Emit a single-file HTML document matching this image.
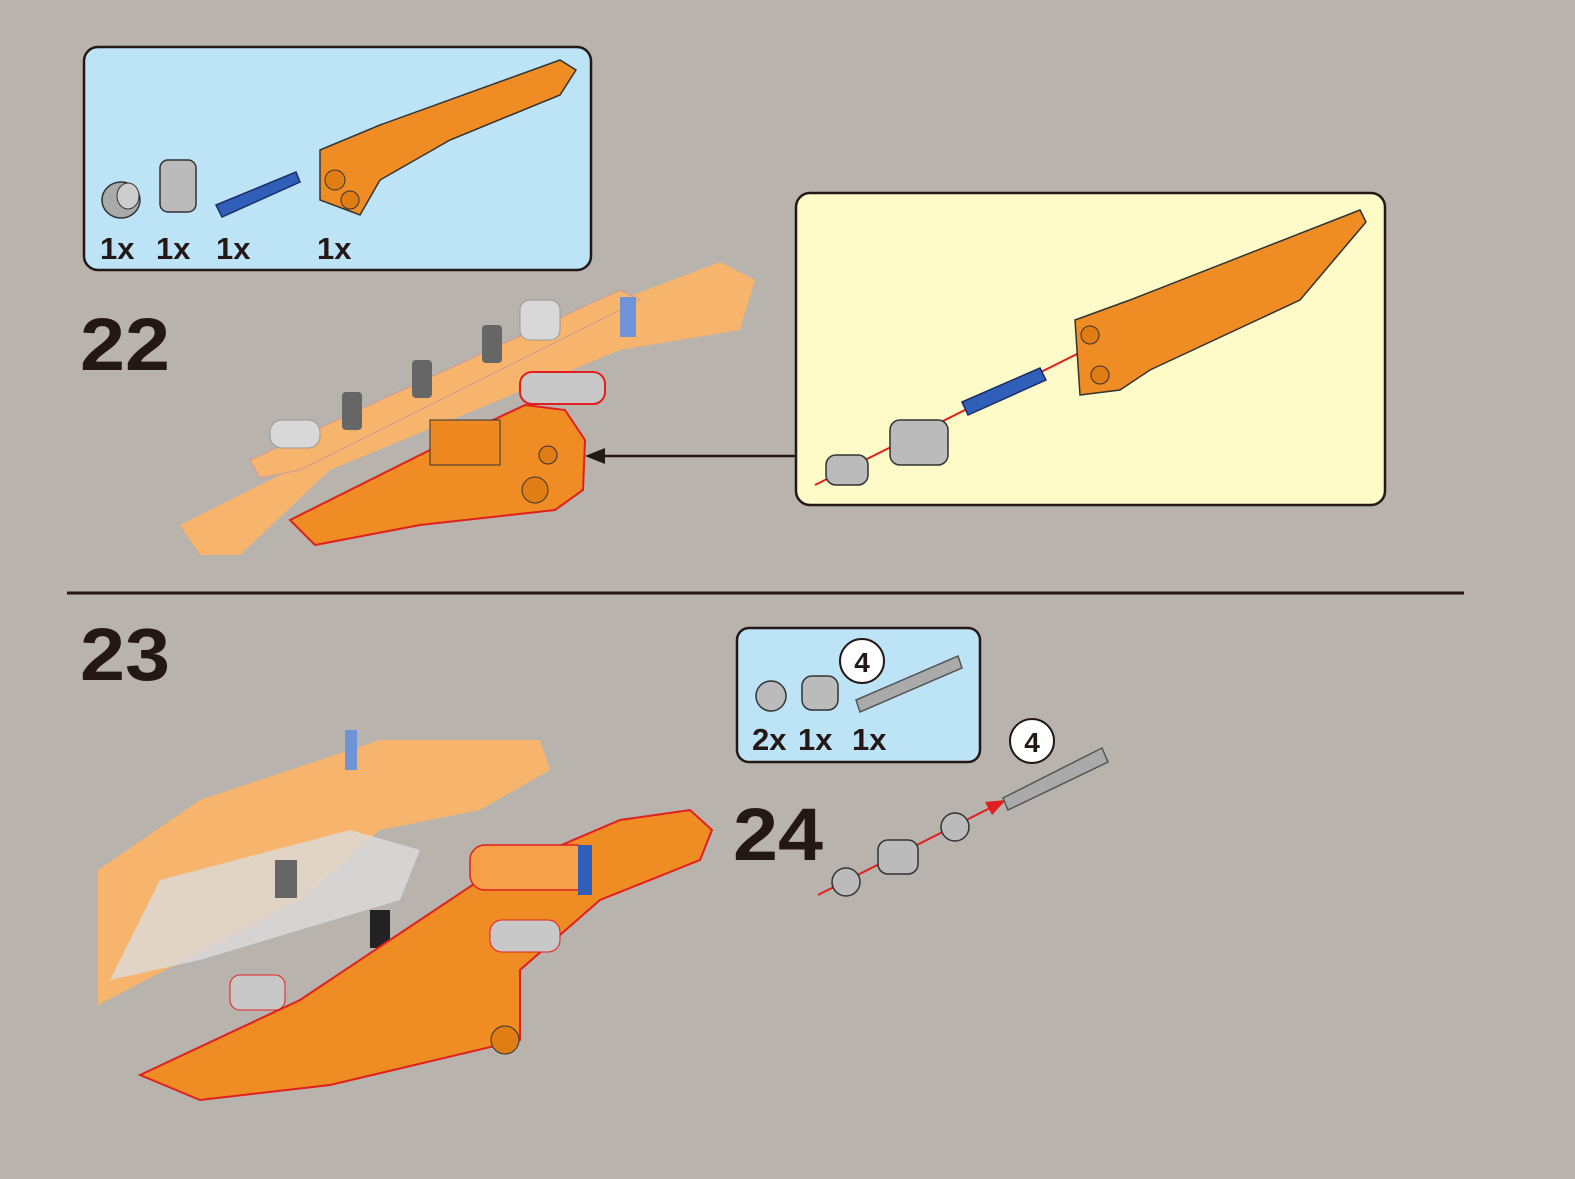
<!DOCTYPE html>
<html><head><meta charset="utf-8"><style>
html,body{margin:0;padding:0;background:#b8b3ac;}
svg{display:block}
text{font-family:"Liberation Sans",sans-serif;font-weight:bold;fill:#231815}
</style></head><body>
<svg width="1575" height="1179" viewBox="0 0 1575 1179">
<rect width="1575" height="1179" fill="#b8b3ac"/>
<!-- parts box 22 -->
<rect x="84" y="47" width="507" height="223" rx="14" fill="#bde3f7" stroke="#231815" stroke-width="2.5"/>
<ellipse cx="121" cy="200" rx="19" ry="18" fill="#aaa" stroke="#333" stroke-width="1.5"/>
<ellipse cx="128" cy="196" rx="11" ry="13" fill="#ccc" stroke="#333"/>
<rect x="160" y="160" width="36" height="52" rx="8" fill="#bbb" stroke="#333" stroke-width="1.5"/>
<polygon points="216,205 296,172 300,182 222,217" fill="#2f5fb8" stroke="#1b2f66" stroke-width="1.5"/>
<polygon points="320,150 380,125 560,60 576,70 560,95 450,140 380,180 360,215 320,200" fill="#f08c24" stroke="#333" stroke-width="1.5"/>
<circle cx="335" cy="180" r="10" fill="#e07d15" stroke="#333"/>
<circle cx="350" cy="200" r="9" fill="#e07d15" stroke="#333"/>
<text x="100" y="259" font-size="31">1x</text>
<text x="156" y="259" font-size="31">1x</text>
<text x="216" y="259" font-size="31">1x</text>
<text x="317" y="259" font-size="31">1x</text>
<text x="80" y="370" font-size="74" textLength="90" lengthAdjust="spacingAndGlyphs">22</text>
<!-- step 22 model -->
<polygon points="180,525 290,470 540,330 720,262 755,280 740,330 620,350 330,470 240,555 200,555" fill="#f6b46c"/>
<polygon points="250,460 620,290 640,300 300,470 260,478" fill="#f6b46c" stroke="#c99" stroke-width="1"/>
<rect x="270" y="420" width="50" height="28" rx="12" fill="#d8d8d8" stroke="#999"/>
<rect x="520" y="300" width="40" height="40" rx="10" fill="#d8d8d8" stroke="#999"/>
<rect x="342" y="392" width="20" height="38" rx="4" fill="#666"/>
<rect x="412" y="360" width="20" height="38" rx="4" fill="#666"/>
<rect x="482" y="325" width="20" height="38" rx="4" fill="#666"/>
<rect x="620" y="297" width="16" height="40" fill="#6e93d6"/>
<rect x="520" y="372" width="85" height="32" rx="12" fill="#c8c8c8" stroke="#e0201f" stroke-width="2"/>
<polygon points="290,520 440,445 525,405 565,410 585,440 583,490 555,510 420,525 315,545" fill="#f08c24" stroke="#e0201f" stroke-width="2"/>
<rect x="430" y="420" width="70" height="45" fill="#ee8820" stroke="#333"/>
<circle cx="548" cy="455" r="9" fill="#e07d15" stroke="#333"/>
<circle cx="535" cy="490" r="13" fill="#e07d15" stroke="#333"/>
<!-- arrow -->
<line x1="796" y1="456" x2="600" y2="456" stroke="#231815" stroke-width="2.5"/>
<polygon points="585,456 605,448 605,464" fill="#231815"/>
<!-- yellow box -->
<rect x="796" y="193" width="589" height="312" rx="14" fill="#fefbc8" stroke="#231815" stroke-width="2.5"/>
<line x1="815" y1="485" x2="1105" y2="340" stroke="#e0201f" stroke-width="2"/>
<polygon points="1112,336 1090,338 1098,352" fill="#e0201f"/>
<rect x="826" y="455" width="42" height="30" rx="10" fill="#bbb" stroke="#333" stroke-width="1.5"/>
<rect x="890" y="420" width="58" height="45" rx="10" fill="#bbb" stroke="#333" stroke-width="1.5"/>
<polygon points="962,402 1040,368 1046,380 968,415" fill="#2f5fb8" stroke="#1b2f66" stroke-width="1.5"/>
<polygon points="1075,320 1130,300 1360,210 1366,222 1300,300 1150,370 1120,390 1080,395" fill="#f08c24" stroke="#333" stroke-width="1.5"/>
<circle cx="1090" cy="335" r="9" fill="#e07d15" stroke="#333"/>
<circle cx="1100" cy="375" r="9" fill="#e07d15" stroke="#333"/>
<!-- divider -->
<line x1="67" y1="593" x2="1464" y2="593" stroke="#231815" stroke-width="3"/>
<text x="80" y="680" font-size="74" textLength="90" lengthAdjust="spacingAndGlyphs">23</text>
<!-- step 23 model -->
<polygon points="98,870 200,800 380,740 540,740 550,770 480,810 380,830 300,900 98,1005" fill="#f6b46c"/>
<polygon points="160,880 350,830 420,850 400,900 200,960 110,980" fill="#dcdcdc" opacity="0.8"/>
<rect x="345" y="730" width="12" height="40" fill="#6e93d6"/>
<rect x="275" y="860" width="22" height="38" fill="#666"/>
<rect x="370" y="910" width="20" height="38" fill="#222"/>
<polygon points="140,1075 300,1000 480,880 620,820 690,810 712,830 700,860 600,900 520,970 520,1040 330,1085 200,1100" fill="#f08c24" stroke="#e0201f" stroke-width="2"/>
<rect x="470" y="845" width="120" height="45" rx="15" fill="#f6a04a" stroke="#e0201f" stroke-width="1.5"/>
<rect x="230" y="975" width="55" height="35" rx="10" fill="#c8c8c8" stroke="#e0201f"/>
<rect x="490" y="920" width="70" height="32" rx="12" fill="#c8c8c8" stroke="#e0201f"/>
<circle cx="505" cy="1040" r="14" fill="#e07d15" stroke="#333"/>
<rect x="578" y="845" width="14" height="50" fill="#2f5fb8"/>
<!-- parts box 24 -->
<rect x="737" y="628" width="243" height="134" rx="12" fill="#bde3f7" stroke="#231815" stroke-width="2.5"/>
<circle cx="771" cy="696" r="15" fill="#bbb" stroke="#333" stroke-width="1.5"/>
<rect x="802" y="676" width="36" height="34" rx="10" fill="#bbb" stroke="#333" stroke-width="1.5"/>
<polygon points="856,700 958,656 962,668 860,712" fill="#aaa" stroke="#555" stroke-width="1.5"/>
<circle cx="862" cy="661" r="22" fill="#fff" stroke="#231815" stroke-width="2"/>
<text x="862" y="672" font-size="28" text-anchor="middle">4</text>
<text x="752" y="750" font-size="31">2x</text>
<text x="798" y="750" font-size="31">1x</text>
<text x="852" y="750" font-size="31">1x</text>
<text x="733" y="860" font-size="74" textLength="90" lengthAdjust="spacingAndGlyphs">24</text>
<!-- step 24 exploded -->
<line x1="818" y1="895" x2="1000" y2="803" stroke="#e0201f" stroke-width="2"/>
<polygon points="1006,800 985,802 992,815" fill="#e0201f"/>
<circle cx="846" cy="882" r="14" fill="#bbb" stroke="#333" stroke-width="1.5"/>
<rect x="878" y="840" width="40" height="34" rx="10" fill="#bbb" stroke="#333" stroke-width="1.5"/>
<circle cx="955" cy="827" r="14" fill="#bbb" stroke="#333" stroke-width="1.5"/>
<polygon points="1003,798 1102,748 1108,762 1008,810" fill="#aaa" stroke="#555" stroke-width="1.5"/>
<circle cx="1032" cy="741" r="22" fill="#fff" stroke="#231815" stroke-width="2"/>
<text x="1032" y="752" font-size="28" text-anchor="middle">4</text>
</svg>
</body></html>
